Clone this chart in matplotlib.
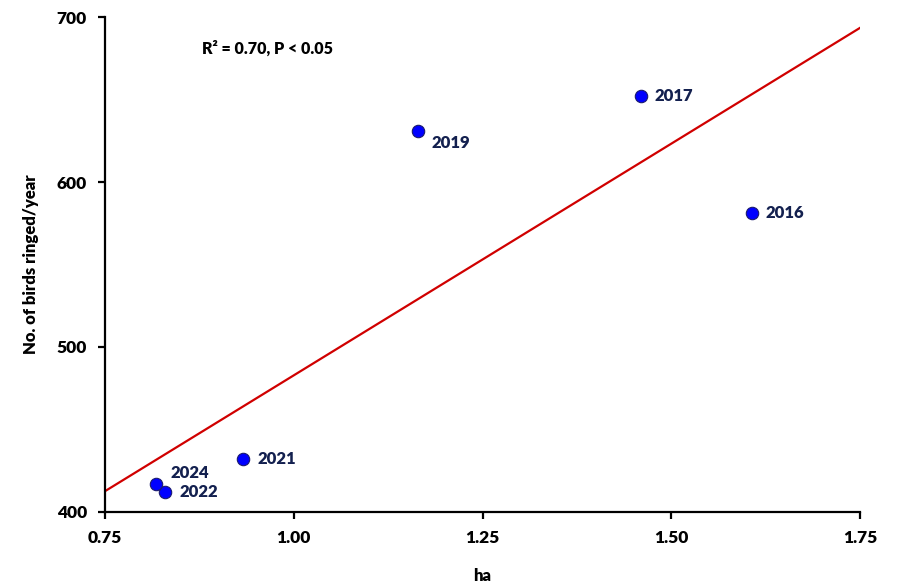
import matplotlib.pyplot as plt
import numpy as np

# area (ha) vs birds ringed per year
years = ["2016", "2017", "2019", "2021", "2022", "2024"]
area_ha = [1.607, 1.460, 1.164, 0.933, 0.830, 0.818]
birds = [581, 652, 631, 432, 412, 417]
x_ticks = [0.75, 1.00, 1.25, 1.50, 1.75]
x_ticklabels = ["0.75", "1.00", "1.25", "1.50", "1.75"]
y_ticks = [400, 500, 600, 700]

# label offsets (points) for the year annotations
offsets = {"2016": (10, 0), "2017": (10, 0), "2019": (10, -9),
           "2021": (10, 0), "2022": (10, 0), "2024": (10, 8)}

plt.rcParams['font.family'] = ['Lato', 'DejaVu Sans']
plt.rcParams['font.weight'] = 'heavy'

fig = plt.figure(figsize=(9, 5.88), dpi=100)
ax = fig.add_axes([0.1167, 0.1293, 0.8389, 0.8417])

# linear fit
slope, intercept = np.polyfit(area_ha, birds, 1)
xs = np.array([0.75, 1.75])
ax.plot(xs, slope * xs + intercept, color='#d00000', lw=1.6, zorder=2)

ax.scatter(area_ha, birds, s=80, color='#0000ff', edgecolors='#1a1a6e',
           linewidths=0.8, zorder=3)
for yr, x, y in zip(years, area_ha, birds):
    ax.annotate(yr, (x, y), xytext=offsets[yr], textcoords='offset points',
                ha='left', va='center', fontsize=12, fontweight='heavy',
                color='#13204f')

ax.text(0.878, 681, "R² = 0.70, P < 0.05", fontsize=11.5, fontweight='heavy',
        ha='left', va='center')

ax.set_xlim(0.75, 1.75)
ax.set_ylim(400, 700)
ax.set_xticks(x_ticks)
ax.set_xticklabels(x_ticklabels, fontweight='heavy')
ax.set_yticks(y_ticks)
ax.set_yticklabels([str(v) for v in y_ticks], fontweight='heavy')

for side in ['top', 'right']:
    ax.spines[side].set_visible(False)
for side in ['left', 'bottom']:
    ax.spines[side].set_linewidth(1.6)
ax.tick_params(direction='out', length=5, width=1.6, labelsize=12.5, pad=8)

ax.set_xlabel("ha", fontsize=12, fontweight='heavy', labelpad=16)
ax.set_ylabel("No. of birds ringed/year", fontsize=12, fontweight='heavy', labelpad=13)

fig.savefig("out.png", dpi=100)
